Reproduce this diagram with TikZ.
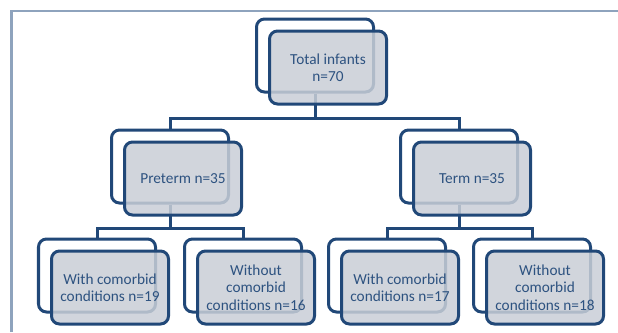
\documentclass[tikz,border=0pt]{standalone}
\usepackage{fontspec}
\setmainfont{Carlito}
\usepackage{tikz}
\definecolor{boxline}{RGB}{33,72,120}
\definecolor{boxfill}{RGB}{201,206,215}
\definecolor{boxtext}{RGB}{45,82,128}
\definecolor{framegray}{RGB}{142,163,189}
\tikzset{
    backbox/.style={rectangle, draw=boxline, fill=white, line width=3bp,
    	rounded corners=8bp, minimum width=117bp, minimum height=73bp}
}
\tikzset{
    frontbox/.style={backbox, fill=boxfill, fill opacity=.85, text opacity=1,
    	text=boxtext, align=center, font=\fontsize{15.3bp}{17.5bp}\selectfont}
}
\tikzset{
	link/.style={draw=boxline, line width=3bp}
}

\begin{document}
\begin{tikzpicture}[x=1bp, y=-1bp]
  \useasboundingbox (0,0) rectangle (618,332);
  \draw[framegray, line width=2.5bp] (11.5,332) -- (11.5,11) -- (618,11);

  % back boxes
  \node (totb) [backbox] at (315, 55.5) {};
  \node (preb) [backbox] at (170, 166.5) {};
  \node (termb) [backbox] at (459, 166.5) {};
  \node (pre1b) [backbox] at (97, 275.5) {};
  \node (pre2b) [backbox] at (243, 275.5) {};
  \node (term1b) [backbox] at (387, 275.5) {};
  \node (term2b) [backbox] at (532, 275.5) {};

  \draw[link] (totb.south) -- ++(0,25) -| (preb.north);
  \draw[link] (totb.south) -- ++(0,25) -| (termb.north);
  \draw[link] (preb.south) -- ++(0,24) -| (pre1b.north);
  \draw[link] (preb.south) -- ++(0,24) -| (pre2b.north);
  \draw[link] (termb.south) -- ++(0,24) -| (term1b.north);
  \draw[link] (termb.south) -- ++(0,24) -| (term2b.north);

  % front boxes
  \node (tot) [frontbox] at (328, 67.5) {Total infants\\n=70};
  \node (pre) [frontbox] at (183, 178.5) {Preterm n=35};
  \node (term) [frontbox] at (472, 178.5) {Term n=35};
  \node (pre1) [frontbox] at (110, 287.5) {With comorbid\\conditions n=19};
  \node (pre2) [frontbox] at (256, 287.5) {Without\\comorbid\\conditions n=16};
  \node (term1) [frontbox] at (400, 287.5) {With comorbid\\conditions n=17};
  \node (term2) [frontbox] at (545, 287.5) {Without\\comorbid\\conditions n=18};
\end{tikzpicture}
\end{document}
